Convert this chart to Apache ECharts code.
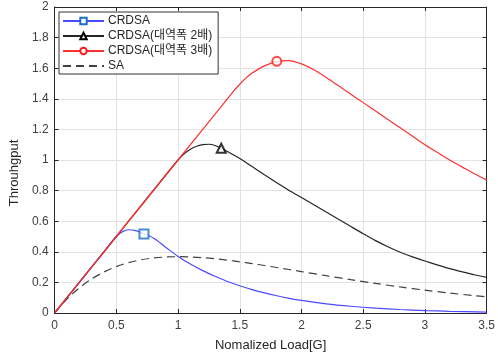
<!DOCTYPE html>
<html><head><meta charset="utf-8">
<script src="https://cdn.jsdelivr.net/npm/echarts@6/dist/echarts.min.js"></script>
<style>html,body{margin:0;padding:0;background:#fff}#c{width:498px;height:357px}</style>
</head><body><div id="c"></div>
<script>
// ---- data ----
const seriesNames = ['CRDSA', 'CRDSA(대역폭 2배)', 'CRDSA(대역폭 3배)', 'SA'];

const crdsaX = [0,0.1,0.2,0.3,0.4,0.5,0.55,0.6,0.65,0.7,0.8,0.9,1.0,1.1,1.2,1.3,1.4,1.5,1.6,1.7,1.8,1.9,2.0,2.2,2.4,2.6,2.8,3.0,3.2,3.5];
const crdsaY = [0,0.1,0.2,0.3,0.4,0.5,0.532,0.544,0.54,0.526,0.49,0.43,0.37,0.32,0.277,0.24,0.206,0.178,0.153,0.132,0.113,0.096,0.082,0.06,0.044,0.032,0.023,0.016,0.011,0.006];

const crdsa2X = [0,0.5,1.0,1.05,1.1,1.15,1.2,1.25,1.3,1.35,1.4,1.5,1.6,1.7,1.8,1.9,2.0,2.2,2.4,2.5,2.6,2.7,2.8,2.9,3.0,3.2,3.4,3.5];
const crdsa2Y = [0,0.5,1.0,1.04,1.07,1.09,1.1,1.103,1.095,1.077,1.055,1.01,0.957,0.903,0.851,0.801,0.755,0.66,0.565,0.518,0.473,0.433,0.397,0.367,0.34,0.29,0.25,0.233];

const crdsa3X = [0,0.5,1.0,1.45,1.5,1.55,1.6,1.7,1.8,1.9,2.0,2.1,2.2,2.3,2.4,2.5,2.6,2.7,2.8,2.9,3.0,3.1,3.2,3.3,3.4,3.5];
const crdsa3Y = [0,0.5,1.0,1.45,1.495,1.535,1.568,1.615,1.643,1.65,1.628,1.59,1.54,1.485,1.43,1.375,1.32,1.265,1.21,1.155,1.1,1.05,1.0,0.955,0.91,0.87];

const saX = [0,0.1,0.2,0.3,0.4,0.5,0.6,0.7,0.8,0.9,1.0,1.1,1.2,1.3,1.4,1.5,1.6,1.7,1.8,1.9,2.0,2.2,2.4,2.6,2.8,3.0,3.2,3.4,3.5];
const saY = [0,0.0905,0.1637,0.2222,0.2681,0.3033,0.3293,0.3476,0.3595,0.3659,0.3679,0.3662,0.3614,0.3543,0.3452,0.3347,0.3230,0.3106,0.2975,0.2842,0.2707,0.2438,0.2177,0.1931,0.1703,0.1494,0.1304,0.1135,0.1057];

// single markers on each curve
const crdsaMark = [0.724, 0.516];
const crdsa2Mark = [1.35, 1.077];
const crdsa3Mark = [1.80, 1.645];

const xTicks = [0, 0.5, 1, 1.5, 2, 2.5, 3, 3.5];
const yTicks = [0, 0.2, 0.4, 0.6, 0.8, 1, 1.2, 1.4, 1.6, 1.8, 2];

// ---- chart ----
const zip = (xs, ys) => xs.map((x, i) => [x, ys[i]]);
const FONT = "'Liberation Sans', Arial, 'Noto Sans CJK KR', sans-serif";
const AXC = '#262626';
const colors = ['#4a4aff', '#262626', '#ff3030', '#404040'];
const markColors = ['#1a6fc4', '#000000', '#ff1a1a'];

const chart = echarts.init(document.getElementById('c'), null, {renderer: 'canvas'});

const baseX = {
  type: 'value', min: xTicks[0], max: xTicks[xTicks.length - 1], interval: 0.5,
  axisLine: {show: true, onZero: false, lineStyle: {color: AXC, width: 1}},
  axisTick: {show: true, inside: true, length: 4, lineStyle: {color: AXC}},
  splitLine: {show: false}
};
const baseY = {
  type: 'value', min: yTicks[0], max: yTicks[yTicks.length - 1], interval: 0.2,
  axisLine: {show: true, onZero: false, lineStyle: {color: AXC, width: 1}},
  axisTick: {show: true, inside: true, length: 4, lineStyle: {color: AXC}},
  splitLine: {show: false}
};

chart.setOption({
  animation: false,
  backgroundColor: '#fff',
  textStyle: {fontFamily: FONT},
  grid: {left: 50, right: 9, top: 7, bottom: 44, containLabel: false},
  legend: {
    orient: 'vertical', left: 59, top: 12,
    backgroundColor: '#fff', borderColor: '#333', borderWidth: 1, borderRadius: 0,
    padding: [3, 6, 2, 3], itemGap: 3, itemWidth: 41, itemHeight: 8,
    textStyle: {fontFamily: FONT, fontSize: 12, color: '#262626', padding: [0, 0, 0, -1]},
    data: [
      {name: seriesNames[0]},
      {name: seriesNames[1]},
      {name: seriesNames[2]},
      {name: seriesNames[3], itemStyle: {color: 'rgba(0,0,0,0)', borderWidth: 0}}
    ]
  },
  xAxis: [
    Object.assign({}, baseX, {
      position: 'bottom',
      name: 'Nomalized Load[G]', nameLocation: 'middle', nameGap: 26,
      nameTextStyle: {fontFamily: FONT, fontSize: 13, color: '#262626'},
      axisLabel: {show: true, margin: 7, fontSize: 12, color: '#404040', fontFamily: FONT,
                  formatter: v => String(v)},
      splitLine: {show: true, lineStyle: {color: '#e3e3e3', width: 1}}
    }),
    Object.assign({}, baseX, {position: 'top', axisLabel: {show: false}})
  ],
  yAxis: [
    Object.assign({}, baseY, {
      position: 'left',
      name: 'Throuhgput', nameLocation: 'middle', nameGap: 32,
      nameTextStyle: {fontFamily: FONT, fontSize: 13, color: '#262626', padding: [0, 26, 0, 0]},
      axisLabel: {show: true, margin: 6, fontSize: 12, color: '#404040', fontFamily: FONT,
                  formatter: v => String(Math.round(v * 10) / 10)},
      splitLine: {show: true, lineStyle: {color: '#e3e3e3', width: 1}}
    }),
    Object.assign({}, baseY, {position: 'right', axisLabel: {show: false}})
  ],
  series: [
    {name: seriesNames[0], type: 'line', data: zip(crdsaX, crdsaY), smooth: 0.3,
     symbol: 'emptyRect', showSymbol: false, symbolSize: 8,
     lineStyle: {color: colors[0], width: 1.2}, itemStyle: {color: markColors[0]}, z: 3},
    {name: seriesNames[1], type: 'line', data: zip(crdsa2X, crdsa2Y), smooth: 0.3,
     symbol: 'emptyTriangle', showSymbol: false, symbolSize: 8,
     lineStyle: {color: colors[1], width: 1.2}, itemStyle: {color: markColors[1]}, z: 3},
    {name: seriesNames[2], type: 'line', data: zip(crdsa3X, crdsa3Y), smooth: 0.3,
     symbol: 'emptyCircle', showSymbol: false, symbolSize: 8,
     lineStyle: {color: colors[2], width: 1.2}, itemStyle: {color: markColors[2]}, z: 3},
    {name: seriesNames[3], type: 'line', data: zip(saX, saY), smooth: 0.3,
     symbol: 'none', showSymbol: false,
     lineStyle: {color: colors[3], width: 1.2, type: [8, 5]}, itemStyle: {color: colors[3]}, z: 2},
    {name: 'm0', type: 'scatter', data: [crdsaMark], symbol: 'rect', symbolSize: 9,
     itemStyle: {color: '#fff', borderColor: markColors[0], borderWidth: 2}, z: 5},
    {name: 'm1', type: 'scatter', data: [crdsa2Mark], symbol: 'triangle', symbolSize: 9,
     itemStyle: {color: '#fff', borderColor: markColors[1], borderWidth: 2}, z: 5},
    {name: 'm2', type: 'scatter', data: [crdsa3Mark], symbol: 'circle', symbolSize: 9,
     itemStyle: {color: '#fff', borderColor: markColors[2], borderWidth: 2}, z: 5}
  ]
});
</script></body></html>
